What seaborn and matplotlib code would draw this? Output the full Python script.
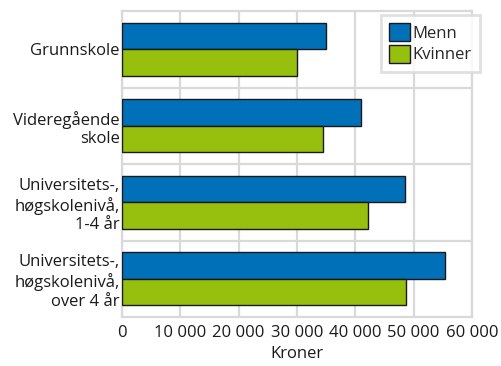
import pandas as pd
import seaborn as sns
import matplotlib.pyplot as plt
from matplotlib.ticker import FixedLocator, FuncFormatter

# === Data ===
kategorier = ["Grunnskole", "Videregående\nskole",
              "Universitets-,\nhøgskolenivå,\n1-4 år",
              "Universitets-,\nhøgskolenivå,\nover 4 år"]
menn = [35000, 41000, 48500, 55300]
kvinner = [30000, 34500, 42100, 48700]

df = pd.DataFrame({
    "kategori": kategorier * 2,
    "kjonn": ["Menn"] * 4 + ["Kvinner"] * 4,
    "kroner": menn + kvinner,
})

sns.set_style("white")
plt.rcParams["font.family"] = ["Open Sans", "DejaVu Sans"]
grid_col = "#d9d9d9"
fs = 12

fig = plt.figure(figsize=(5.01, 3.66), dpi=100)
ax = fig.add_axes([122 / 501, 1 - 317 / 366, 350 / 501, 306 / 366])

sns.barplot(data=df, y="kategori", x="kroner", hue="kjonn", orient="h",
            palette={"Menn": "#0070b8", "Kvinner": "#97bf0d"}, saturation=1,
            edgecolor="#1a1a1a", linewidth=1.0, width=0.69, ax=ax, zorder=3)

ax.set_xlim(0, 60000)
ax.set_ylim(3.5, -0.5)
ax.set_xticks(range(0, 60001, 10000))
ax.xaxis.set_major_formatter(FuncFormatter(lambda v, p: f"{int(v):,}".replace(",", " ")))
ax.set_yticks(range(len(kategorier)))
ax.set_yticklabels(kategorier, multialignment="right")
ax.yaxis.set_minor_locator(FixedLocator([0.5, 1.5, 2.5]))
ax.grid(axis="x", which="major", color=grid_col, linewidth=1.6, zorder=0)
ax.grid(axis="y", which="minor", color=grid_col, linewidth=1.6, zorder=0)
ax.grid(axis="y", which="major", visible=False)
ax.set_axisbelow(True)
for s in ax.spines.values():
    s.set_color(grid_col)
    s.set_linewidth(1.6)

ax.tick_params(axis="both", which="both", length=0, labelsize=fs, colors="#1a1a1a")
ax.tick_params(axis="x", pad=6)
ax.tick_params(axis="y", pad=1.5)
ax.set_xlabel("Kroner", fontsize=fs, color="#1a1a1a", labelpad=3)
ax.set_ylabel("")

leg = ax.legend(loc="upper right", bbox_to_anchor=(1.023, 0.987), borderaxespad=0,
                frameon=True, fancybox=False, fontsize=fs, handlelength=1.25,
                handleheight=1.25, handletextpad=0.15, borderpad=0.5, labelspacing=0.2)
leg.get_frame().set_edgecolor(grid_col)
leg.get_frame().set_linewidth(2)
for h in leg.legend_handles:
    h.set_edgecolor("#1a1a1a")

fig.savefig("out.png", dpi=100)
